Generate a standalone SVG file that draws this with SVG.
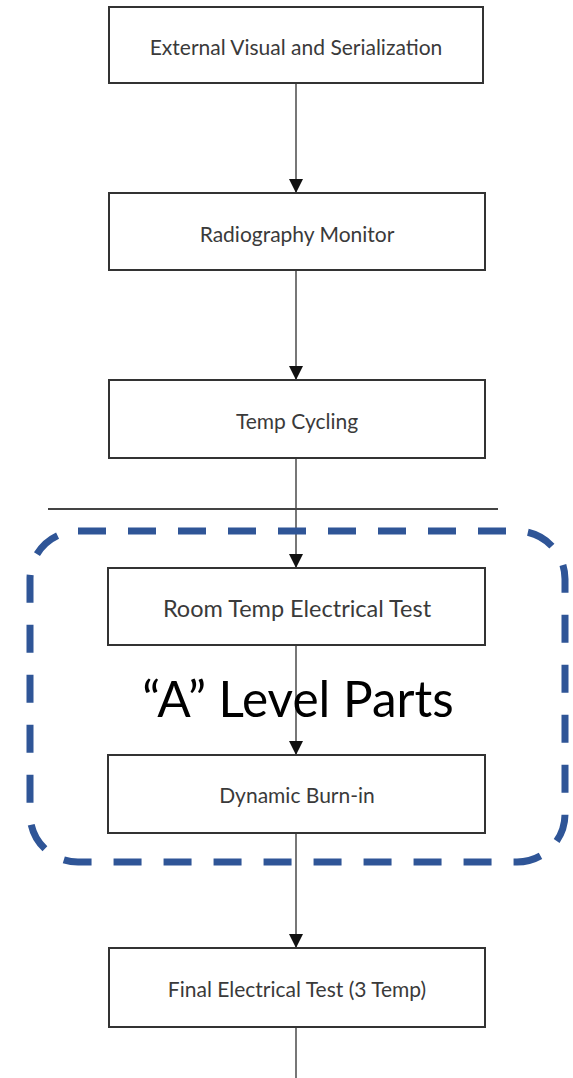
<svg xmlns="http://www.w3.org/2000/svg" width="573" height="1078" viewBox="0 0 573 1078">
<style>
.box{fill:#fff;stroke:#333;stroke-width:2}
.lbl{font-family:Lato,"Open Sans",sans-serif;font-size:21px;fill:#3a3a3a;text-anchor:middle;dominant-baseline:central}
.conn{stroke:#555;stroke-width:1.6;fill:none}
</style>
<defs>
<marker id="ar" markerWidth="14" markerHeight="14" refX="14" refY="7" orient="auto" markerUnits="userSpaceOnUse" viewBox="0 0 14 14">
<path d="M0,0 L14,7 L0,14 Z" fill="#111"/>
</marker>
</defs>
<rect width="573" height="1078" fill="#fff"/>
<g id="connectors">
<line class="conn" x1="296" y1="83" x2="296" y2="193" marker-end="url(#ar)"/>
<line class="conn" x1="296" y1="270" x2="296" y2="380" marker-end="url(#ar)"/>
<line class="conn" x1="296" y1="458" x2="296" y2="568" marker-end="url(#ar)"/>
<line class="conn" x1="296" y1="645" x2="296" y2="755" marker-end="url(#ar)"/>
<line class="conn" x1="296" y1="833" x2="296" y2="948" marker-end="url(#ar)"/>
<line class="conn" x1="296" y1="1027" x2="296" y2="1078"/>
</g>
<line id="divider" x1="48" y1="509" x2="498" y2="509" stroke="#444" stroke-width="2"/>
<g id="n1"><rect class="box" x="109" y="7" width="374" height="76"/><text class="lbl" x="296" y="46">External Visual and Serialization</text></g>
<g id="n2"><rect class="box" x="109" y="193" width="376" height="77"/><text class="lbl" x="297" y="233">Radiography Monitor</text></g>
<g id="n3"><rect class="box" x="109" y="380" width="376" height="78"/><text class="lbl" x="297" y="420">Temp Cycling</text></g>
<g id="n4"><rect class="box" x="108" y="568" width="377" height="77"/><text class="lbl" x="297" y="608" style="font-size:23.5px">Room Temp Electrical Test</text></g>
<g id="n5"><rect class="box" x="108" y="755" width="377" height="78"/><text class="lbl" x="297" y="794">Dynamic Burn-in</text></g>
<g id="n6"><rect class="box" x="109" y="948" width="376" height="79"/><text class="lbl" x="297" y="988">Final Electrical Test (3 Temp)</text></g>
<g id="group-a">
<rect x="30" y="531" width="535" height="331" rx="48" ry="48" fill="none" stroke="#2F5597" stroke-width="7" stroke-dasharray="28 22"/>
<text x="298" y="717" font-family="Lato,'Open Sans',sans-serif" font-size="49.5" fill="#000" text-anchor="middle">“A” Level Parts</text>
</g>
</svg>
